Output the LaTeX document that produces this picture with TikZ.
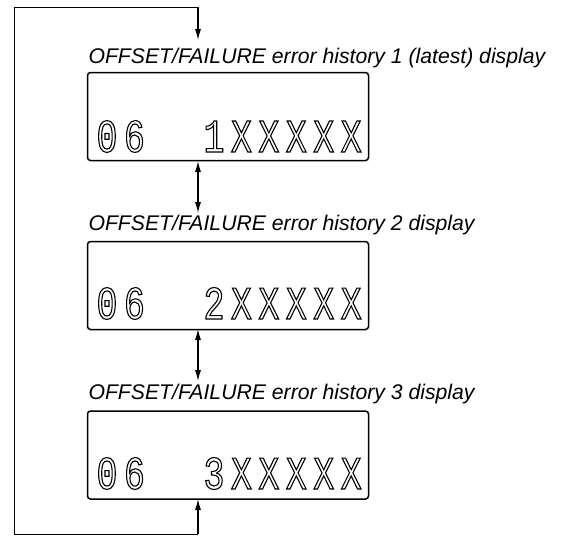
\documentclass[tikz,border=0pt]{standalone}
\usepackage{fontspec}
\setmainfont{Liberation Sans}
\newfontfamily\lcdfont[FakeStretch=0.74,LetterSpace=14]{Liberation Mono}
\usetikzlibrary{arrows.meta}
\newcommand{\hollow}[1]{\special{pdf:literal direct 1 Tr 1.1 w}#1\special{pdf:literal direct 0 Tr}}
\begin{document}
\begin{tikzpicture}[x=1pt,y=-1pt,line width=1.1pt,
    lcd/.style={draw,line width=1.5pt,rounded corners=3pt,minimum width=281pt,minimum height=88pt,inner sep=0pt},
    caption/.style={anchor=base west,inner sep=0pt,font=\fontsize{21.2}{24}\selectfont\itshape},
    seg/.style={inner sep=0pt,font=\fontsize{47}{47}\lcdfont},
    arr/.style={-{Latex[length=11pt,width=6pt]}},
    dbl/.style={{Latex[length=11pt,width=6pt]}-{Latex[length=11pt,width=6pt]}}]
    \useasboundingbox (0,0) rectangle (564,536);
    % displays
    \node[lcd] (box1) at (228,116.5) {};
    \node[lcd] (box2) at (228,285.5) {};
    \node[lcd] (box3) at (228,455) {};
    \node[caption] (cap1) at (88,63) {OFFSET/FAILURE error history 1 (latest) display};
    \node[caption] (cap2) at (88,230) {OFFSET/FAILURE error history 2 display};
    \node[caption] (cap3) at (88,399) {OFFSET/FAILURE error history 3 display};
    \node[seg,anchor=base west] (code1) at (96,152) {\hollow{06}};
    \node[seg,anchor=base west] (hist1) at (203,152) {\hollow{1XXXXX}};
    \node[seg,anchor=base west] (code2) at (96,319) {\hollow{06}};
    \node[seg,anchor=base west] (hist2) at (203,319) {\hollow{2XXXXX}};
    \node[seg,anchor=base west] (code3) at (96,489) {\hollow{06}};
    \node[seg,anchor=base west] (hist3) at (203,489) {\hollow{3XXXXX}};
    % loop and arrows
    \coordinate (loopT) at (14,7);
    \coordinate (loopB) at (14,534);
    \coordinate (inT) at (198,7);
    \coordinate (inB) at (198,534);
    \coordinate (a1) at (198,40);
    \coordinate (b1) at (198,161);
    \coordinate (c2) at (198,213);
    \coordinate (b2) at (198,329);
    \coordinate (c3) at (198,381);
    \coordinate (b3) at (198,499);
    \draw[line width=1pt] (loopB) -- (loopT) -- (inT);
    \draw[line width=1pt] (loopB) -- (inB);
    \draw[arr] (inT) -- (a1);
    \draw[dbl] (b1) -- (c2);
    \draw[dbl] (b2) -- (c3);
    \draw[arr] (inB) -- (b3);
\end{tikzpicture}
\end{document}
